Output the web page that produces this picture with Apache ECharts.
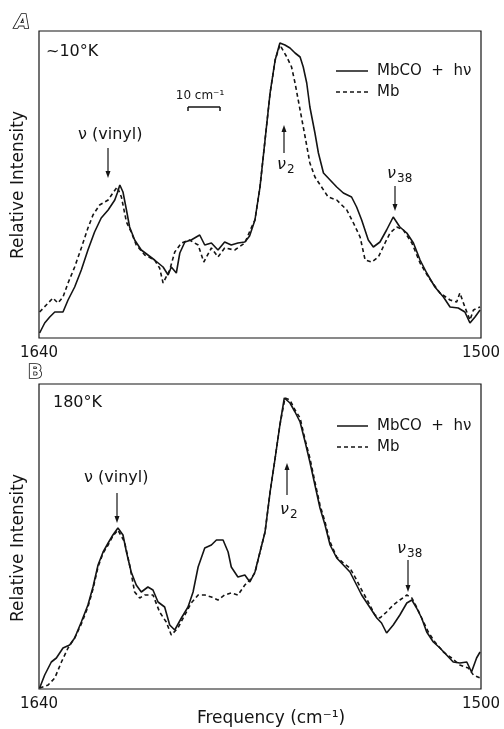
<!DOCTYPE html>
<html><head><meta charset="utf-8">
<script src="https://cdn.jsdelivr.net/npm/echarts@6/dist/echarts.min.js"></script>
<style>html,body{margin:0;padding:0;background:#fff}#c{width:504px;height:729px}</style>
</head><body><div id="c"></div>
<script>
// ---- Panel A (~10 K) ----
const freqA_solid = [1639.8,1638.2,1636.6,1635.0,1632.4,1630.8,1628.7,1626.6,1624.5,1622.4,1620.3,1618.1,1616.0,1615.2,1614.4,1613.4,1612.3,1611.3,1609.7,1607.6,1605.5,1603.4,1600.7,1599.1,1598.1,1596.5,1595.4,1593.8,1591.8,1589.1,1587.5,1585.4,1583.3,1581.2,1579.1,1577.0,1574.8,1573.3,1571.6,1570.0,1568.4,1566.8,1565.2,1563.7,1562.1,1560.5,1558.9,1557.3,1556.3,1555.2,1554.2,1552.6,1551.5,1549.9,1547.8,1545.7,1543.6,1541.0,1539.4,1537.8,1535.7,1534.1,1532.0,1529.9,1527.8,1525.7,1523.5,1521.4,1519.3,1517.2,1514.6,1511.9,1509.8,1507.2,1505.1,1503.5,1501.9,1500.3];
const intA_solid = [5,15,21,26,26,38,51,68,88,106,120,128,138,145,153,146,128,111,98,88,83,78,71,63,71,65,85,96,98,103,93,95,88,96,93,95,96,102,118,151,198,245,278,295,293,290,285,281,271,255,231,205,185,165,158,151,145,141,131,118,98,91,96,108,121,111,105,95,78,65,51,41,31,30,26,15,21,28];
const freqA_dashed = [1639.8,1637.7,1635.6,1634.0,1632.4,1630.8,1628.7,1626.6,1624.5,1622.9,1620.8,1618.1,1616.6,1615.2,1613.9,1612.3,1610.8,1609.2,1606.5,1603.4,1601.8,1600.7,1598.6,1597.0,1594.9,1592.3,1589.6,1587.8,1585.4,1583.3,1581.2,1578.0,1574.8,1572.8,1571.6,1570.0,1568.4,1566.8,1565.2,1563.7,1561.5,1560.0,1558.9,1557.3,1555.7,1554.2,1552.6,1550.5,1548.4,1545.7,1542.5,1540.4,1538.3,1536.7,1534.6,1532.5,1530.4,1528.8,1526.7,1524.6,1521.9,1519.3,1516.7,1513.0,1509.8,1507.7,1506.7,1505.1,1503.5,1502.4,1500.3];
const intA_dashed = [26,33,40,35,41,55,71,90,110,123,133,138,145,151,141,116,106,93,83,78,70,55,68,86,95,98,93,76,90,81,90,88,95,110,118,151,198,245,278,293,281,271,255,228,201,175,161,151,141,138,128,115,101,78,76,81,95,105,111,108,95,75,61,45,38,36,45,31,18,28,31];

// ---- Panel B (180 K) ----
const freqB_solid = [1639.8,1638.2,1636.1,1634.5,1632.4,1630.3,1628.7,1626.6,1624.5,1622.9,1621.3,1619.7,1618.1,1616.6,1615.0,1613.4,1612.3,1610.8,1609.2,1607.6,1605.5,1603.9,1602.3,1600.2,1598.6,1597.0,1594.9,1592.8,1591.2,1589.6,1587.5,1585.4,1583.8,1581.7,1580.1,1579.1,1577.0,1574.8,1573.2,1571.6,1570.0,1568.4,1566.8,1565.2,1563.7,1562.3,1560.5,1558.9,1557.3,1555.7,1554.2,1552.6,1551.0,1549.4,1547.8,1545.7,1543.6,1541.5,1539.4,1537.8,1535.7,1533.0,1531.5,1529.9,1527.8,1525.7,1523.5,1521.9,1520.4,1518.8,1517.2,1515.1,1513.0,1510.9,1508.8,1506.7,1504.5,1503.0,1501.4,1500.3];
const intB_solid = [1,14,27,31,41,44,51,67,84,102,124,137,146,154,161,154,137,117,104,97,102,99,87,82,64,59,71,82,97,122,141,144,149,149,137,122,112,114,107,117,137,157,197,231,264,291,286,277,267,247,227,204,181,164,144,131,124,117,104,94,84,71,66,56,64,74,86,89,81,71,57,47,41,34,27,26,27,17,31,37];
const freqB_dashed = [1639.8,1637.1,1635.0,1632.9,1630.8,1628.7,1626.6,1624.5,1622.9,1621.3,1619.7,1618.1,1616.6,1615.0,1612.9,1611.3,1609.7,1608.1,1606.5,1603.9,1601.8,1599.7,1598.1,1596.0,1593.8,1591.8,1589.6,1587.5,1585.4,1583.3,1581.2,1579.1,1577.0,1574.8,1573.2,1571.6,1570.0,1568.4,1566.8,1565.2,1563.7,1562.1,1560.5,1558.9,1557.3,1555.7,1554.2,1552.6,1551.0,1549.4,1547.8,1545.7,1543.6,1541.5,1539.4,1537.8,1535.7,1533.6,1532.0,1529.9,1527.8,1525.7,1523.5,1521.9,1520.4,1518.8,1516.7,1514.6,1511.9,1509.3,1506.7,1504.0,1502.4,1500.3];
const intB_dashed = [1,4,11,27,41,51,65,82,100,122,136,144,153,159,147,124,97,91,94,94,77,67,54,61,74,86,94,94,92,89,94,96,94,104,109,116,137,157,197,231,264,291,289,279,271,249,231,207,184,167,147,132,126,121,109,99,87,74,71,77,84,89,94,91,82,71,57,47,37,31,24,21,14,11];

const xTickLabels = [1640, 1500];
const seriesNames = ['MbCO + hν', 'Mb'];

const chart = echarts.init(document.getElementById('c'), null, {renderer: 'canvas'});
const pair = (f, v) => f.map((x, i) => [x, v[i]]);
const FONT = 'DejaVu Sans';
const INK = '#141414';

function xAx(g) {
  return {gridIndex: g, type: 'value', min: 1500, max: 1640, inverse: true,
    axisLine: {show: false}, axisTick: {show: false}, splitLine: {show: false},
    axisLabel: {customValues: xTickLabels, formatter: v => String(v), color: INK, fontSize: 15, fontFamily: FONT, margin: 8}};
}
function ln(name, g, data, dashed) {
  return {name, type: 'line', xAxisIndex: g, yAxisIndex: g, data, showSymbol: false, symbol: 'none',
    lineStyle: {color: INK, width: 1.6, type: dashed ? [4, 3] : 'solid'}, animation: false};
}
function txt(x, y, s, size, opts) {
  return Object.assign({type: 'text', x, y, style: Object.assign({text: s, font: size + 'px "' + FONT + '"', fill: INK, textAlign: 'left', textVerticalAlign: 'middle'}, (opts && opts.style) || {})}, (opts && opts.el) || {});
}
function seg(x1, y1, x2, y2, dash) {
  return {type: 'line', shape: {x1, y1, x2, y2}, style: {stroke: INK, lineWidth: 1.5, lineDash: dash || null}};
}
function arrow(x, yTail, yHead) {
  const d = yHead > yTail ? 1 : -1;
  return [
    {type: 'line', shape: {x1: x, y1: yTail, x2: x, y2: yHead - d * 5}, style: {stroke: INK, lineWidth: 1.2}},
    {type: 'polygon', shape: {points: [[x - 2.5, yHead - d * 7], [x + 2.5, yHead - d * 7], [x, yHead]]}, style: {fill: INK}}
  ];
}
function nuSub(x, y, sub) {
  return [
    txt(x, y, 'ν', 16, {style: {font: 'italic 16px "' + FONT + '"'}}),
    txt(x + 10, y + 5, sub, 12)
  ];
}
const letterStyle = {font: 'bold 19px "' + FONT + '"', fill: '#fff', stroke: INK, lineWidth: 1.7};

const graphics = [].concat(
  // panel letters
  [txt(15, 23, 'A', 19, {style: Object.assign({}, letterStyle, {font: 'italic bold 19px "' + FONT + '"'})})],
  [txt(28, 373, 'B', 19, {style: letterStyle})],
  // y titles
  [txt(19, 185, 'Relative Intensity', 17, {style: {textAlign: 'center'}, el: {rotation: Math.PI / 2}})],
  [txt(19, 548, 'Relative Intensity', 17, {style: {textAlign: 'center'}, el: {rotation: Math.PI / 2}})],
  [txt(271, 719, 'Frequency (cm⁻¹)', 17, {style: {textAlign: 'center'}})],
  // temperatures
  [txt(46, 52, '~10°K', 16)],
  [txt(53, 403, '180°K', 16)],
  // legends
  [seg(336, 71, 368, 71), txt(377, 71, 'MbCO  +  hν', 15), seg(336, 92, 368, 92, [4, 3]), txt(377, 92, 'Mb', 15)],
  [seg(337, 426, 368, 426), txt(377, 426, 'MbCO  +  hν', 15), seg(337, 447, 368, 447, [4, 3]), txt(377, 447, 'Mb', 15)],
  // scale bar
  [txt(200, 96, '10 cm⁻¹', 12, {style: {textAlign: 'center'}}), seg(188, 107, 220, 107), seg(188, 107, 188, 111), seg(220, 107, 220, 111)],
  // panel A annotations
  [txt(78, 135, 'ν (vinyl)', 16)],
  arrow(108, 148, 178),
  arrow(284, 153, 125),
  nuSub(277, 165, '2'),
  nuSub(387, 174, '38'),
  arrow(395, 186, 211),
  // panel B annotations
  [txt(84, 478, 'ν (vinyl)', 16)],
  arrow(117, 493, 523),
  arrow(287, 495, 463),
  nuSub(280, 510, '2'),
  nuSub(397, 549, '38'),
  arrow(408, 560, 592)
);

chart.setOption({
  animation: false,
  backgroundColor: '#fff',
  grid: [
    {left: 39, top: 31, width: 442, height: 307, show: true, borderColor: INK, borderWidth: 1.2, backgroundColor: 'transparent'},
    {left: 39, top: 384, width: 442, height: 305, show: true, borderColor: INK, borderWidth: 1.2, backgroundColor: 'transparent'}
  ],
  xAxis: [xAx(0), xAx(1)],
  yAxis: [
    {gridIndex: 0, type: 'value', min: 0, max: 307, show: false},
    {gridIndex: 1, type: 'value', min: 0, max: 305, show: false}
  ],
  series: [
    ln(seriesNames[0], 0, pair(freqA_solid, intA_solid), false),
    ln(seriesNames[1], 0, pair(freqA_dashed, intA_dashed), true),
    ln(seriesNames[0], 1, pair(freqB_solid, intB_solid), false),
    ln(seriesNames[1], 1, pair(freqB_dashed, intB_dashed), true)
  ],
  graphic: graphics
});
</script></body></html>
